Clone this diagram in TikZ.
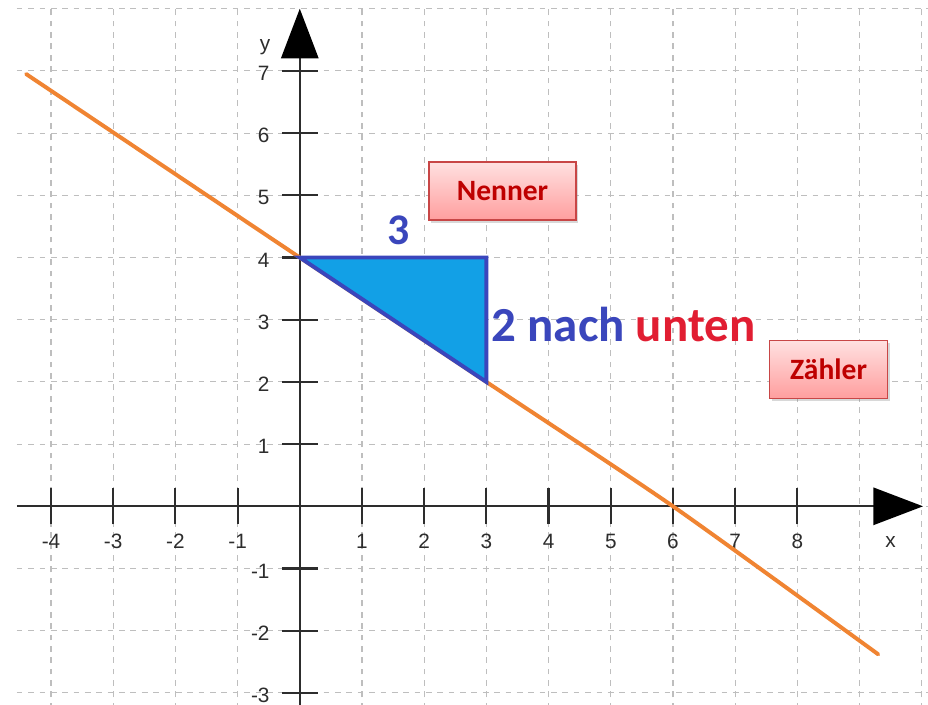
\documentclass[tikz,border=0pt]{standalone}
\usepackage{fontspec}
\setmainfont{Liberation Sans}
\newfontfamily\calib{Carlito}
\usetikzlibrary{arrows.meta, shadows}

\definecolor{gridgray}{RGB}{190,190,190}
\definecolor{axisgray}{RGB}{45,45,45}
\definecolor{lineorange}{RGB}{240,132,50}
\definecolor{trifill}{RGB}{18,160,230}
\definecolor{slopeblue}{RGB}{58,70,188}
\definecolor{slopered}{RGB}{225,30,50}
\definecolor{boxred}{RGB}{200,70,70}
\definecolor{boxtext}{RGB}{190,0,0}

\begin{document}
\begin{tikzpicture}[>={Triangle[length=8mm,width=6mm,color=black]},
        gridline/.style={gridgray, line width=0.5pt, dash pattern=on 2.6pt off 2.6pt},
        axis/.style={axisgray, line width=1pt},
        ticklabel/.style={text=axisgray, font=\fontsize{9.5}{11}\selectfont, inner sep=0pt},
        fline/.style={lineorange, line width=1.8pt, line cap=round},
        slope/.style={draw=slopeblue, fill=trifill, line width=1.8pt},
        runtext/.style={font=\calib\bfseries\fontsize{20}{24}\selectfont, inner sep=0pt},
        box/.style={rectangle, draw=boxred, line width=0.8pt, top color=red!12, bottom color=red!38,
            drop shadow={shadow xshift=1pt, shadow yshift=-1.2pt, opacity=0.3},
            font=\calib\bfseries\fontsize{13.5}{16}\selectfont, text=boxtext, minimum height=0.93cm}]

    \useasboundingbox[fill=white] (-4.82,-3.19) rectangle (10.1,8.14);

    % grid
    \foreach \x in {-4,...,10}
        \draw[gridline] (\x,-3.25) -- (\x,8);
    \foreach \y in {-3,...,8}
        \draw[gridline] (-4.55,\y) -- (10.2,\y);

    % axes
    \draw[axis,->] (-4.55,0) -- (10.02,0);
    \draw[axis,->] (0,-3.25) -- (0,8);
    \foreach \x in {-4,...,-1,1,2,...,8} {
        \draw[axis] (\x,-0.29) -- (\x,0.29);
        \node[ticklabel] (xl\x) at (\x,-0.56) {\x};
    }
    \foreach \y in {-3,...,-1,1,2,...,7} {
        \draw[axis] (-0.29,\y) -- (0.29,\y);
        \node[ticklabel, anchor=east] (yl\y) at (-0.48,\y-0.04) {\y};
    }
    \node[ticklabel] (xlab) at (9.5,-0.57) {x};
    \node[ticklabel] (ylab) at (-0.56,7.38) {y};

    % line and slope triangle
    \coordinate (A) at (0,4);
    \coordinate (B) at (3,4);
    \coordinate (C) at (3,2);
    \coordinate (xcut) at (6,0);
    \coordinate (lstart) at (-4.4,6.95);
    \coordinate (lend) at (9.3,-2.38);
    \draw[fline] plot[smooth, tension=0.4] coordinates {(lstart) (A) (C) (xcut) (lend)};

    \filldraw[slope] (A) -- (B) -- (C) -- cycle;

    \node[runtext, text=slopeblue] (run) at (1.59,4.44) {3};
    \node[runtext, font=\calib\bfseries\fontsize{22.4}{26}\selectfont, anchor=west] (rise) at (3.08,2.93)
        {\textcolor{slopeblue}{2 nach} \textcolor{slopered}{unten}};

    \node[box, minimum width=2.36cm] (nenner) at (3.26,5.07) {Nenner};
    \node[box, minimum width=1.9cm] (zaehler) at (8.5,2.2) {Zähler};
\end{tikzpicture}
\end{document}
